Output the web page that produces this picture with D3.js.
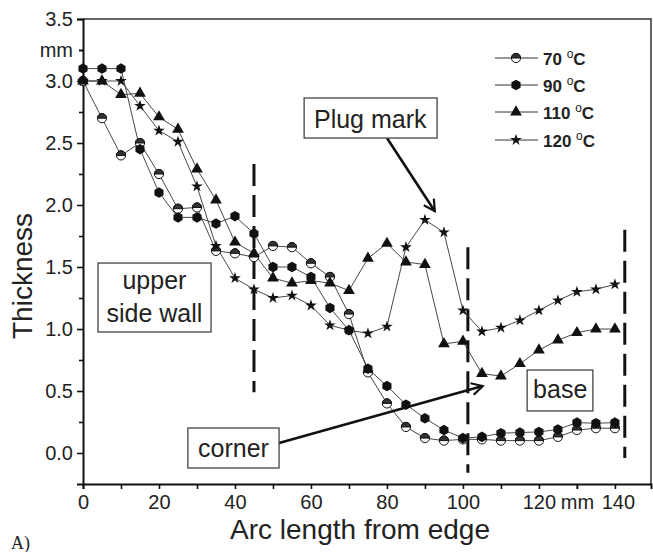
<!DOCTYPE html>
<html>
<head>
<meta charset="utf-8">
<script src="https://cdn.jsdelivr.net/npm/d3@7"></script>
<style>
  html, body { margin: 0; padding: 0; background: #fff; }
  svg { display: block; font-family: "Liberation Sans", Arial, sans-serif; }
</style>
</head>
<body>
<svg id="chart" width="653" height="552"></svg>
<script>
// ---------------- DATA ----------------
const arcLength = [0, 5, 10, 15, 20, 25, 30, 35, 40, 45, 50, 55, 60, 65, 70,
                   75, 80, 85, 90, 95, 100, 105, 110, 115, 120, 125, 130, 135, 140];
const t70  = [3.0, 2.7, 2.4, 2.5, 2.25, 1.97, 1.98, 1.63, 1.61, 1.58, 1.67, 1.66, 1.53, 1.42, 1.12,
              0.65, 0.40, 0.21, 0.12, 0.10, 0.11, 0.11, 0.10, 0.10, 0.10, 0.13, 0.185, 0.20, 0.20];
const t90  = [3.1, 3.1, 3.1, 2.45, 2.10, 1.90, 1.90, 1.85, 1.91, 1.77, 1.50, 1.50, 1.42, 1.17, 0.99,
              0.68, 0.54, 0.39, 0.28, 0.185, 0.12, 0.13, 0.16, 0.165, 0.17, 0.19, 0.245, 0.24, 0.245];
const t110 = [3.0, 3.0, 2.89, 2.9, 2.71, 2.61, 2.29, 2.04, 1.70, 1.61, 1.41, 1.37, 1.39, 1.37, 1.31,
              1.57, 1.69, 1.54, 1.52, 0.88, 0.90, 0.64, 0.62, 0.72, 0.83, 0.91, 0.97, 1.0, 1.0];
const t120 = [3.0, 3.0, 3.0, 2.8, 2.6, 2.51, 2.15, 1.67, 1.41, 1.32, 1.25, 1.27, 1.19, 1.03, 0.99,
              0.965, 1.02, 1.66, 1.88, 1.78, 1.15, 0.98, 1.01, 1.07, 1.15, 1.23, 1.30, 1.32, 1.36];
const seriesNames = ["70", "90", "110", "120"];

const xTickValues = [0, 20, 40, 60, 80, 100, 120, 130, 140];
const xTickLabels = ["0", "20", "40", "60", "80", "100", "120", "mm", "140"];
const xMinorTicks = [10, 30, 50, 70, 90, 110, 130];
const yTickValues = [0, 0.5, 1.0, 1.5, 2.0, 2.5, 3.0, 3.25, 3.5];
const yTickLabels = ["0.0", "0.5", "1.0", "1.5", "2.0", "2.5", "3.0", "mm", "3.5"];
const yMinorTicks = [0.25, 0.75, 1.25, 1.75, 2.25, 2.75, 3.25];

// section boundaries (dashed vertical lines)
const sectionX      = [45, 101.3, 142.6];
const sectionTop    = [2.33, 1.66, 1.80];
const sectionBottom = [0.49, -0.16, -0.04];

// ---------------- LAYOUT ----------------
const svg = d3.select("#chart");
const mLeft = 83, mRight = 651, mTop = 19, mBottom = 484;
const x = d3.scaleLinear().domain([0, 149.5]).range([mLeft, mRight]);
const y = d3.scaleLinear().domain([-0.25, 3.5]).range([mBottom, mTop]);
const ink = "#111";

// frame (top & right)
svg.append("path")
  .attr("d", `M${mLeft},${mTop}H${mRight}V${mBottom}`)
  .attr("fill", "none").attr("stroke", "#333").attr("stroke-width", 1.5);

// axes
const xAxis = svg.append("g").attr("transform", `translate(0,${mBottom})`)
  .call(d3.axisBottom(x).tickValues(xTickValues)
    .tickFormat((d, i) => xTickLabels[i]).tickSize(5).tickPadding(6));
svg.append("g").attr("transform", `translate(0,${mBottom})`)
  .call(d3.axisBottom(x).tickValues(xMinorTicks).tickFormat("").tickSize(5))
  .select(".domain").remove();
const yAxis = svg.append("g").attr("transform", `translate(${mLeft},0)`)
  .call(d3.axisLeft(y).tickValues(yTickValues)
    .tickFormat((d, i) => yTickLabels[i]).tickSize(6).tickPadding(4));
svg.append("g").attr("transform", `translate(${mLeft},0)`)
  .call(d3.axisLeft(y).tickValues(yMinorTicks).tickFormat("").tickSize(4))
  .select(".domain").remove();

svg.selectAll(".domain").attr("stroke", ink).attr("stroke-width", 2);
svg.selectAll(".tick line").attr("stroke", ink).attr("stroke-width", 1.6);
svg.selectAll(".tick text").attr("fill", "#222").style("font-size", "20px")
  .style("font-family", '"Liberation Sans", Arial, sans-serif');
yAxis.selectAll(".tick").filter(d => d === 3.25).select("line").attr("x2", -4);
xAxis.selectAll(".tick").filter(d => d === 140).select("text").attr("dx", 3);

// axis titles
svg.append("text").attr("transform", "translate(32,276) rotate(-90)")
  .attr("text-anchor", "middle").style("font-size", "28px").attr("fill", "#222")
  .text("Thickness");
svg.append("text").attr("x", 360).attr("y", 539)
  .attr("text-anchor", "middle").style("font-size", "28px").attr("fill", "#222")
  .text("Arc length from edge");
svg.append("text").attr("x", 11).attr("y", 549)
  .style("font-size", "18px").style("font-family", '"Liberation Serif", serif').attr("fill", "#222")
  .text("A)");

// dashed section lines
svg.append("g").selectAll("line").data(sectionX).join("line")
  .attr("x1", d => x(d)).attr("x2", d => x(d))
  .attr("y1", (d, i) => y(sectionTop[i])).attr("y2", (d, i) => y(sectionBottom[i]))
  .attr("stroke", ink).attr("stroke-width", 3).attr("stroke-dasharray", "22,9");

// ---------------- MARKERS ----------------
const hexagon = {
  draw(ctx, size) {
    const r = Math.sqrt(size / 2.598);
    for (let k = 0; k < 6; k++) {
      const a = Math.PI / 6 + k * Math.PI / 3;
      const px = r * Math.cos(a), py = r * Math.sin(a);
      if (k === 0) ctx.moveTo(px, py); else ctx.lineTo(px, py);
    }
    ctx.closePath();
  }
};
function drawMarker(g, kind) {
  if (kind === "70") {
    const r = 4.6;
    g.append("circle").attr("r", r).attr("fill", "#fff").attr("stroke", ink).attr("stroke-width", 1);
    g.append("path").attr("d", `M${-r},0A${r},${r} 0 0 1 ${r},0Z`).attr("fill", "#333")
      .attr("stroke", ink).attr("stroke-width", 1);
  } else if (kind === "90") {
    g.append("path").attr("d", d3.symbol().type(hexagon).size(72)()).attr("fill", ink);
  } else if (kind === "110") {
    g.append("path").attr("d", d3.symbol().type(d3.symbolTriangle).size(60)()).attr("fill", ink);
  } else {
    g.append("path").attr("d", d3.symbol().type(d3.symbolStar).size(42)()).attr("fill", ink);
  }
}

const seriesValues = [t70, t90, t110, t120];
const line = d3.line().x((d, i) => x(arcLength[i])).y(d => y(d));
seriesValues.forEach(vals => {
  svg.append("path").attr("d", line(vals)).attr("fill", "none")
    .attr("stroke", "#333").attr("stroke-width", 0.9);
});
seriesValues.forEach((vals, s) => {
  const g = svg.append("g");
  vals.forEach((v, i) => {
    const m = g.append("g").attr("transform", `translate(${x(arcLength[i])},${y(v)})`);
    drawMarker(m, seriesNames[s]);
  });
});

// ---------------- LEGEND ----------------
const legendRowsY = [58, 85, 112, 140];
const legend = svg.append("g");
seriesNames.forEach((name, i) => {
  const ly = legendRowsY[i];
  legend.append("line").attr("x1", 495).attr("x2", 538).attr("y1", ly).attr("y2", ly)
    .attr("stroke", "#333").attr("stroke-width", 1);
  drawMarker(legend.append("g").attr("transform", `translate(516,${ly})`), name);
  const t = legend.append("text").attr("x", 543).attr("y", ly + 6.5)
    .style("font-size", "17px").style("font-weight", "bold").attr("fill", "#222");
  t.append("tspan").text(name + (name.length < 3 ? "  " : " "));
  t.append("tspan").attr("dy", -7).style("font-size", "12px").style("font-weight", "normal").text("o");
  t.append("tspan").attr("dy", 7).text("C");
});

// ---------------- ANNOTATIONS ----------------
svg.append("defs").append("marker").attr("id", "chev")
  .attr("viewBox", "-12 -7 14 14").attr("refX", 0).attr("refY", 0)
  .attr("markerWidth", 14).attr("markerHeight", 14).attr("markerUnits", "userSpaceOnUse")
  .attr("orient", "auto")
  .append("path").attr("d", "M-11,-6L0,0L-11,6").attr("fill", "none")
  .attr("stroke", ink).attr("stroke-width", 2.2);

function box(x0, x1, y0, y1) {
  svg.append("rect").attr("x", x(x0)).attr("y", y(y0))
    .attr("width", x(x1) - x(x0)).attr("height", y(y1) - y(y0))
    .attr("fill", "#fff").attr("stroke", "#444").attr("stroke-width", 1.3);
}
function label(cx, by, txt) {
  svg.append("text").attr("x", x(cx)).attr("y", y(by)).attr("text-anchor", "middle")
    .style("font-size", "25px").attr("fill", "#222").text(txt);
}
function arrow(x0, y0, x1, y1) {
  svg.append("line").attr("x1", x(x0)).attr("y1", y(y0)).attr("x2", x(x1)).attr("y2", y(y1))
    .attr("stroke", ink).attr("stroke-width", 2.6).attr("marker-end", "url(#chev)");
}

arrow(80.0, 2.54, 92.6, 1.95);
box(58.2, 93.2, 2.863, 2.540); label(75.6, 2.621, "Plug mark");
box(3.95, 33.7, 1.532, 0.976); label(18.8, 1.323, "upper"); label(18.8, 1.056, "side wall");
arrow(51.6, 0.081, 105.2, 0.54);
box(27.6, 51.6, 0.2016, -0.121); label(39.6, -0.032, "corner");
box(116.9, 134.2, 0.669, 0.339); label(125.6, 0.444, "base");
</script>
</body>
</html>
